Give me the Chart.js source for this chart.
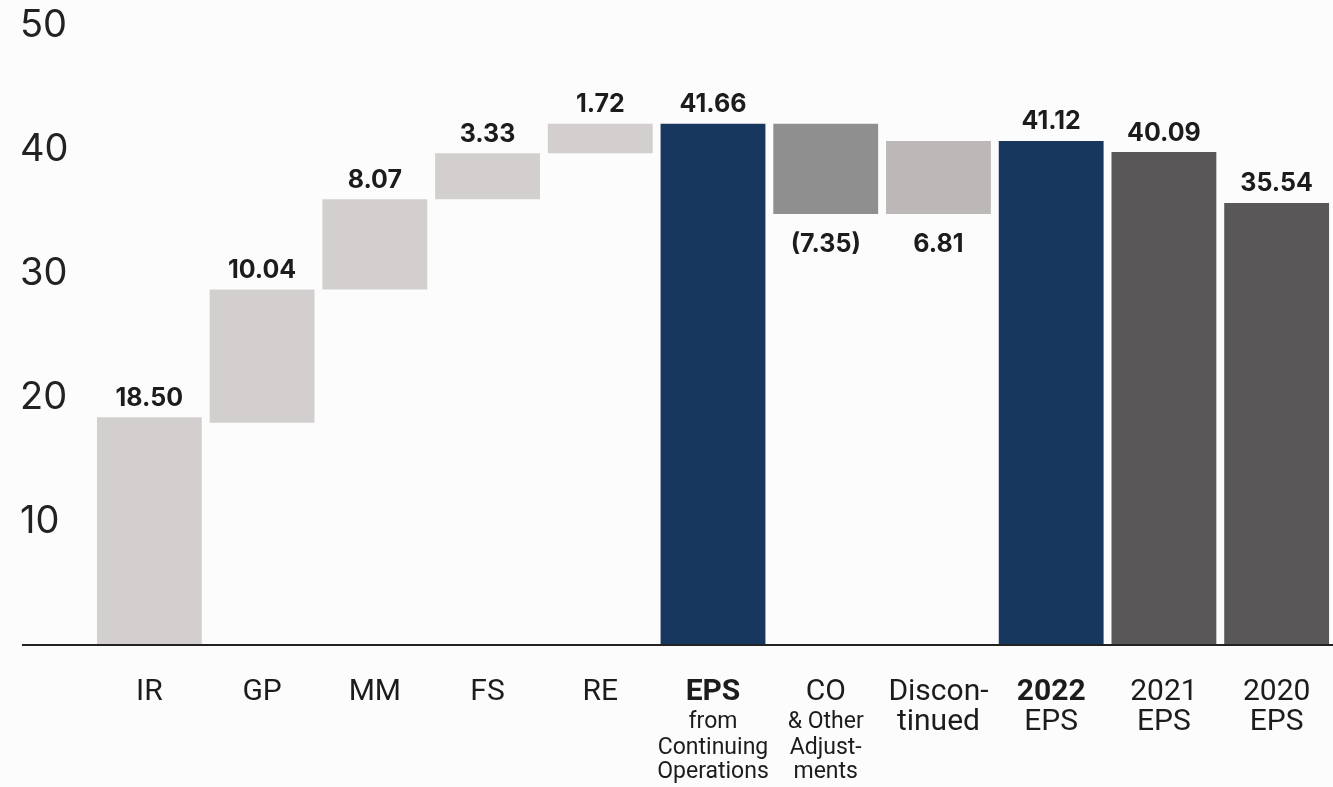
<!DOCTYPE html>
<html>
<head>
<meta charset="utf-8">
<script src="https://cdn.jsdelivr.net/npm/chart.js@4/dist/chart.umd.min.js"></script>
<style>
  html, body { margin: 0; padding: 0; background: #fcfcfc; }
  #wrap { width: 1333px; height: 787px; position: relative; }
</style>
</head>
<body>
<div id="wrap"><canvas id="graph"></canvas></div>
<script>
// chart data
var categories = ['IR', 'GP', 'MM', 'FS', 'RE', 'EPS', 'CO', 'Discontinued', '2022', '2021', '2020'];
var barStart = [0, 17.95, 28.7, 36.0, 39.7, 0, 34.8, 34.8, 0, 0, 0];
var barEnd = [18.4, 28.7, 36.0, 39.7, 42.1, 42.1, 42.1, 40.7, 40.7, 39.8, 35.7];
var valueLabels = ['18.50', '10.04', '8.07', '3.33', '1.72', '41.66', '(7.35)', '6.81', '41.12', '40.09', '35.54'];
var labelBelow = [false, false, false, false, false, false, true, true, false, false, false];
var yTicks = [10, 20, 30, 40, 50];

// x tick labels, one list of lines per category (b = bold, s = small)
var tickLines = [
  [{t: 'IR'}],
  [{t: 'GP'}],
  [{t: 'MM'}],
  [{t: 'FS'}],
  [{t: 'RE'}],
  [{t: 'EPS', b: true}, {t: 'from', s: true}, {t: 'Continuing', s: true}, {t: 'Operations', s: true}],
  [{t: 'CO'}, {t: '& Other', s: true}, {t: 'Adjust-', s: true}, {t: 'ments', s: true}],
  [{t: 'Discon-'}, {t: 'tinued'}],
  [{t: '2022', b: true}, {t: 'EPS'}],
  [{t: '2021'}, {t: 'EPS'}],
  [{t: '2020'}, {t: 'EPS'}]
];

var colors = ['#d3cfcf', '#d3cfcf', '#d3cfcf', '#d3cfcf', '#d3cfcf', '#17375e',
  '#8f8f8f', '#bcb8b8', '#17375e', '#5a5759', '#5a5759'];

var ranges = [];
for (let i = 0; i < categories.length; i++) {
  ranges.push([barStart[i], barEnd[i]]);
}

// baseline + labels drawn on top of the bars
const labelPlugin = {
  id: 'labelPlugin',
  afterDatasetsDraw(chart) {
    const ctx = chart.ctx;
    const x = chart.scales.x;
    const y = chart.scales.y;
    const y0 = y.getPixelForValue(0);

    ctx.save();
    ctx.strokeStyle = '#222';
    ctx.lineWidth = 2;
    ctx.beginPath();
    ctx.moveTo(22, y0);
    ctx.lineTo(chart.width, y0);
    ctx.stroke();

    // value labels
    const bars = chart.getDatasetMeta(0).data;
    ctx.fillStyle = '#1c1c1c';
    ctx.textAlign = 'center';
    ctx.textBaseline = 'middle';
    ctx.font = '700 25px Inter';
    bars.forEach(function (bar, i) {
      let top = Math.min(bar.y, bar.base);
      let bottom = Math.max(bar.y, bar.base);
      if (labelBelow[i]) {
        ctx.fillText(valueLabels[i], bar.x, bottom + 30);
      } else {
        ctx.fillText(valueLabels[i], bar.x, top - 19);
      }
    });

    // category labels
    const lineY = [692, 722, 748, 772];
    tickLines.forEach(function (lines, i) {
      const cx = x.getPixelForValue(i);
      lines.forEach(function (line, j) {
        let size = line.s ? 23 : 30;
        ctx.font = (line.b ? '700 ' : '400 ') + size + 'px Roboto';
        ctx.fillStyle = '#1c1c1c';
        ctx.fillText(line.t, cx, lineY[j]);
      });
    });
    ctx.restore();
  }
};

const config = {
  type: 'bar',
  data: {
    labels: categories,
    datasets: [{
      data: ranges,
      backgroundColor: colors,
      borderWidth: 0,
      categoryPercentage: 1,
      barPercentage: 0.93
    }]
  },
  options: {
    responsive: true,
    maintainAspectRatio: false,
    animation: false,
    layout: { padding: { left: 20, right: 0, top: 24, bottom: 142 } },
    plugins: {
      legend: { display: false },
      tooltip: { enabled: false }
    },
    scales: {
      x: { display: false },
      y: {
        min: 0,
        max: 50,
        afterFit: function (scale) { scale.width = 73; },
        afterBuildTicks: function (scale) {
          scale.ticks = yTicks.map(v => ({ value: v }));
        },
        grid: { display: false },
        border: { display: false },
        ticks: {
          crossAlign: 'far',
          color: '#222',
          font: { family: 'Inter', size: 38, weight: 400 }
        }
      }
    }
  },
  plugins: [labelPlugin]
};

const dayChart = new Chart(document.getElementById('graph'), config);
</script>
</body>
</html>
